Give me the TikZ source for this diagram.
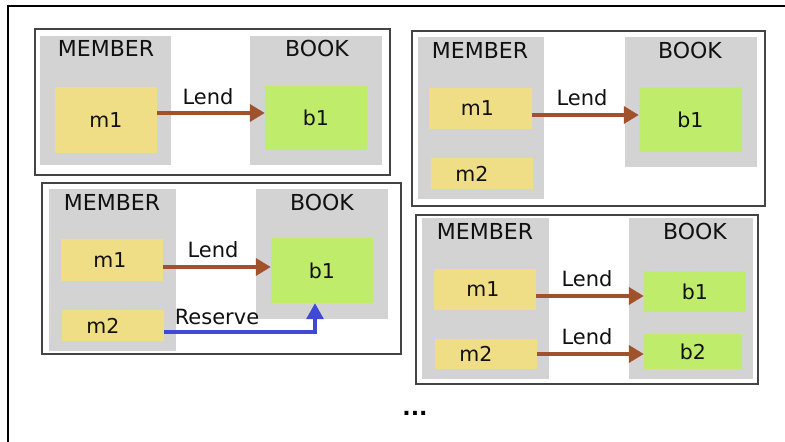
\documentclass[tikz,border=0pt]{standalone}
\usepackage{fontspec}
\setmainfont{DejaVu Sans}
\usetikzlibrary{arrows.meta}

\definecolor{setgray}{HTML}{D3D3D3}
\definecolor{memfill}{HTML}{EFDE86}
\definecolor{bookfill}{HTML}{C0EC6B}
\definecolor{lendcol}{HTML}{A0522D}
\definecolor{rescol}{HTML}{4048D6}
\definecolor{framecol}{HTML}{444444}
\definecolor{inkcol}{HTML}{111111}

\tikzset{
  panel/.style={draw=framecol, line width=1.4pt, fill=white, inner sep=0pt},
  setbox/.style={fill=setgray, inner sep=0pt},
  member/.style={fill=memfill, inner sep=0pt, text=inkcol, font=\fontsize{20.5}{24}\selectfont},
  book/.style={fill=bookfill, inner sep=0pt, text=inkcol, font=\fontsize{20.5}{24}\selectfont},
  header/.style={inner sep=0pt, text=inkcol, font=\fontsize{22}{26}\selectfont},
  rel/.style={inner sep=0pt, text=inkcol, font=\fontsize{21}{25}\selectfont},
  lend/.style={draw=lendcol, line width=3.6pt, -{Triangle[length=15pt,width=17pt]}},
  reserve/.style={draw=rescol, line width=3.2pt, -{Triangle[length=16pt,width=17pt]}},
}

\begin{document}
\begin{tikzpicture}[x=1pt, y=-1pt]
\useasboundingbox (0,0) rectangle (785,442);

% outer border (left and top edges)
\draw[line width=1.2pt] (8,442) -- (8,6) -- (785,6);

% ---------- state 1: m1 lends b1 ----------
\node[panel, minimum width=355, minimum height=146] (p1) at (212.5,102) {};
\node[setbox, minimum width=131, minimum height=129] (p1mem) at (105.5,100.5) {};
\node[setbox, minimum width=132, minimum height=129] (p1bk) at (316,100.5) {};
\node[header] (p1memt) at (106,48) {MEMBER};
\node[header] (p1bkt) at (317,48) {BOOK};
\node[member, minimum width=102, minimum height=66] (p1m1) at (106,120) {m1};
\node[book, minimum width=102, minimum height=64] (p1b1) at (316,118) {b1};
\coordinate (p1s) at ([yshift=7pt]p1m1.east);
\draw[lend] (p1s) -- (p1b1.west |- p1s);
\node[rel] (p1l) at (208,97) {Lend};

% ---------- state 2: m1 lends b1, m2 idle ----------
\node[panel, minimum width=353, minimum height=175] (p2) at (588.5,118.5) {};
\node[setbox, minimum width=126, minimum height=162] (p2mem) at (481,118) {};
\node[setbox, minimum width=132, minimum height=130] (p2bk) at (691,102) {};
\node[header] (p2memt) at (480,50) {MEMBER};
\node[header] (p2bkt) at (690,50) {BOOK};
\node[member, minimum width=103, minimum height=41] (p2m1) at (480.5,108.5) {\hspace*{-6pt}m1};
\node[member, minimum width=102, minimum height=31] (p2m2) at (482,173.5) {\hspace*{-20pt}m2};
\node[book, minimum width=103, minimum height=65] (p2b1) at (690.5,119.5) {b1};
\coordinate (p2s) at ([yshift=-6.5pt]p2m1.east);
\draw[lend] (p2s) -- (p2b1.west |- p2s);
\node[rel] (p2l) at (582,98) {Lend};

% ---------- state 3: m1 lends b1, m2 reserves b1 ----------
\node[panel, minimum width=359, minimum height=171] (p3) at (221.5,268.5) {};
\node[setbox, minimum width=127, minimum height=162] (p3mem) at (112.5,270) {};
\node[setbox, minimum width=132, minimum height=130] (p3bk) at (322,254) {};
\node[header] (p3memt) at (112,202) {MEMBER};
\node[header] (p3bkt) at (322,202) {BOOK};
\node[member, minimum width=102, minimum height=42] (p3m1) at (112,260) {\hspace*{-4pt}m1};
\node[member, minimum width=102, minimum height=31] (p3m2) at (113,325.5) {\hspace*{-20pt}m2};
\node[book, minimum width=102, minimum height=65] (p3b1) at (322,270.5) {b1};
\coordinate (p3s) at ([yshift=-7pt]p3m1.east);
\draw[lend] (p3s) -- (p3b1.west |- p3s);
\node[rel] (p3l) at (213,250) {Lend};
\coordinate (p3r0) at ([yshift=-6.5pt]p3m2.east);
\coordinate (p3r1) at ([xshift=-7pt]p3b1.south);
\draw[reserve, line join=miter] (p3r0) -| (p3r1);
\node[rel] (p3r) at (217,317) {Reserve};

% ---------- state 4: m1 lends b1, m2 lends b2 ----------
\node[panel, minimum width=342, minimum height=169] (p4) at (587,299.5) {};
\node[setbox, minimum width=127, minimum height=161] (p4mem) at (485.5,298.5) {};
\node[setbox, minimum width=124, minimum height=161] (p4bk) at (691,298.5) {};
\node[header] (p4memt) at (485,231) {MEMBER};
\node[header] (p4bkt) at (695,231) {BOOK};
\node[member, minimum width=102, minimum height=41] (p4m1) at (485,289.5) {\hspace*{-4pt}m1};
\node[member, minimum width=102, minimum height=30] (p4m2) at (486,354) {\hspace*{-20pt}m2};
\node[book, minimum width=102, minimum height=41] (p4b1) at (695,291.5) {b1};
\node[book, minimum width=98, minimum height=35] (p4b2) at (693,351.5) {b2};
\coordinate (p4s) at ([yshift=-6.5pt]p4m1.east);
\draw[lend] (p4s) -- (p4b1.west |- p4s);
\draw[lend] (p4m2.east) -- (p4b2.west |- p4m2.east);
\node[rel] (p4l1) at (587,279) {Lend};
\node[rel] (p4l2) at (587,337) {Lend};

% continuation mark
\node[inner sep=0pt, font=\bfseries\fontsize{22}{24}\selectfont] (more) at (415,413) {...};
\end{tikzpicture}
\end{document}
